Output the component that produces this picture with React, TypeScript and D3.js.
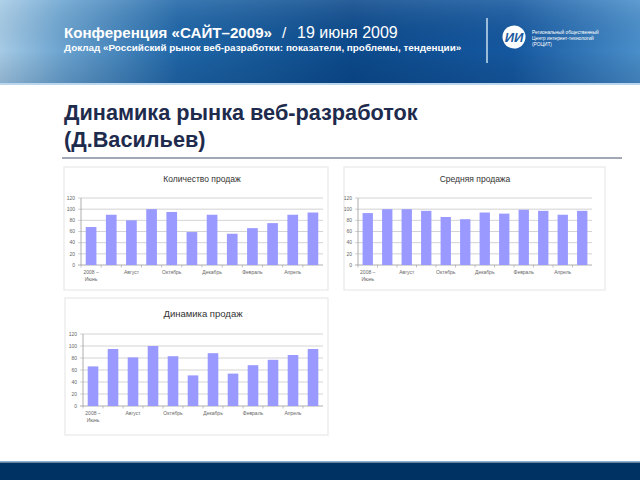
import React from "react";
import * as d3 from "d3";

const categories = ["Июнь", "Июль", "Август", "Сентябрь", "Октябрь", "Ноябрь", "Декабрь", "Январь", "Февраль", "Март", "Апрель", "Май"];
const tickLabels = ["2008 –|Июнь", "", "Август", "", "Октябрь", "", "Декабрь", "", "Февраль", "", "Апрель", ""];
const salesCount = [68, 90, 80, 100, 95, 59, 90, 56, 66, 75, 90, 94];
const avgSale = [93, 100, 100, 97, 86, 82, 94, 92, 99, 97, 90, 97];
const salesDynamics = [66, 95, 81, 100, 83, 51, 88, 54, 68, 77, 85, 95];
const yTicks = [0, 20, 40, 60, 80, 100, 120];

type ChartProps = {
  title: string;
  values: number[];
  box: [number, number, number, number];
  plot: [number, number, number, number];
  titleY: number;
  titleSize: number;
};

function BarChart({ title, values, box, plot, titleY, titleSize }: ChartProps) {
  const [bx0, by0, bx1, by1] = box;
  const [px0, py0, px1, py1] = plot;
  const x = d3.scaleBand<string>().domain(categories).range([px0, px1]).paddingInner(0.47).paddingOuter(0.235);
  const xb = d3.scaleBand<string>().domain(categories).range([px0, px1]);
  const y = d3.scaleLinear().domain([0, 120]).range([py1, py0]);
  return (
    <g>
      <rect x={bx0} y={by0} width={bx1 - bx0} height={by1 - by0} fill="#fff" stroke="#e4e4e4" strokeWidth={1} />
      <text x={(px0 + px1) / 2} y={titleY} textAnchor="middle" fontSize={titleSize} fill="#333">{title}</text>
      {yTicks.map((t) => (
        <g key={t}>
          <line x1={px0 - 3} x2={px1} y1={y(t)} y2={y(t)} stroke={t === 0 ? "#9a9a9a" : "#c8c8c8"} strokeWidth={0.8} />
          <text x={px0 - 6} y={y(t) + 1.8} textAnchor="end" fontSize={5} fill="#666">{t}</text>
        </g>
      ))}
      <line x1={px0} x2={px0} y1={py0} y2={py1} stroke="#9a9a9a" strokeWidth={0.8} />
      {categories.map((c) => (
        <line key={"t" + c} x1={xb(c)!} x2={xb(c)!} y1={py1} y2={py1 + 2.5} stroke="#9a9a9a" strokeWidth={0.6} />
      ))}
      {values.map((v, i) => (
        <rect key={categories[i]} x={x(categories[i])} y={y(v)} width={x.bandwidth()} height={y(0) - y(v)} fill="#9999ff" />
      ))}
      {tickLabels.map((lab, i) => {
        if (!lab) return null;
        const cx = xb(categories[i])! + xb.bandwidth() / 2;
        const parts = lab.split("|");
        return (
          <text key={"l" + i} x={cx} y={py1 + 9} textAnchor="middle" fontSize={5} fill="#666">
            {parts.map((p, j) => (
              <tspan key={j} x={cx} dy={j === 0 ? 0 : 7}>{p}</tspan>
            ))}
          </text>
        );
      })}
    </g>
  );
}

export default function App() {
  const font = "Liberation Sans, Arial, sans-serif";
  return (
    <svg width={640} height={480} style={{ position: "absolute", left: 0, top: 0 }} fontFamily={font}>
      <defs>
        <linearGradient id="hdr" x1="0" y1="0" x2="1" y2="0">
          <stop offset="0" stopColor="#a6cbe6" />
          <stop offset="0.1" stopColor="#6aa3d0" />
          <stop offset="0.28" stopColor="#1f66a8" />
          <stop offset="0.55" stopColor="#0c4a8c" />
          <stop offset="0.8" stopColor="#1558a0" />
          <stop offset="1" stopColor="#4a8fcb" />
        </linearGradient>
        <linearGradient id="hdrv" x1="0" y1="0" x2="0" y2="1">
          <stop offset="0" stopColor="#ffffff" stopOpacity="0.12" />
          <stop offset="0.6" stopColor="#000000" stopOpacity="0" />
          <stop offset="1" stopColor="#001a40" stopOpacity="0.15" />
        </linearGradient>
      </defs>
      <rect x={0} y={0} width={640} height={480} fill="#fff" />
      <rect x={0} y={0} width={640} height={84} fill="url(#hdr)" />
      <rect x={0} y={0} width={640} height={84} fill="url(#hdrv)" />
      <rect x={0} y={83} width={640} height={2} fill="#b9d6ec" />
      <text x={64} y={38} fill="#fff" fontSize={15} fontWeight="bold" textLength={208} lengthAdjust="spacingAndGlyphs">Конференция «САЙТ–2009»</text>
      <text x={282} y={38} fill="#fff" fontSize={15.5}>/</text>
      <text x={297} y={38} fill="#fff" fontSize={16}>19 июня 2009</text>
      <text x={64} y={51} fill="#fff" fontSize={9.9} fontWeight="bold">Доклад «Российский рынок веб-разработки: показатели, проблемы, тенденции»</text>
      <line x1={487} x2={487} y1={18} y2={63} stroke="#c9def0" strokeWidth={1.5} />
      <circle cx={514} cy={37} r={11.5} fill="#fff" />
      <text x={514} y={42} textAnchor="middle" fontSize={13} fontWeight="bold" fill="#1a5aa0" fontStyle="italic">ИИ</text>
      <text fill="#fff" fontSize={4.8}>
        <tspan x={532} y={34}>Региональный общественный</tspan>
        <tspan x={532} y={40}>Центр интернет-технологий</tspan>
        <tspan x={532} y={46}>(РОЦИТ)</tspan>
      </text>

      <text x={64} y={120} fill="#1e2b4d" fontSize={21.7} fontWeight="bold">Динамика рынка веб-разработок</text>
      <text x={64} y={147} fill="#1e2b4d" fontSize={21.7} fontWeight="bold">(Д.Васильев)</text>
      <line x1={62} x2={622} y1={158} y2={158} stroke="#44506a" strokeWidth={1} />

      <BarChart title="Количество продаж" values={salesCount} box={[64, 167, 328, 290]} plot={[81, 198, 323, 265]} titleY={182} titleSize={8.5} />
      <BarChart title="Средняя продажа" values={avgSale} box={[344, 167, 605, 290]} plot={[358, 198, 592, 265]} titleY={182} titleSize={8.5} />
      <BarChart title="Динамика продаж" values={salesDynamics} box={[65, 298, 328, 435]} plot={[83, 334, 323, 406]} titleY={317} titleSize={9.5} />

      <rect x={0} y={461} width={640} height={1.5} fill="#8fb0cc" />
      <rect x={0} y={462.5} width={640} height={18} fill="#003264" />
    </svg>
  );
}
